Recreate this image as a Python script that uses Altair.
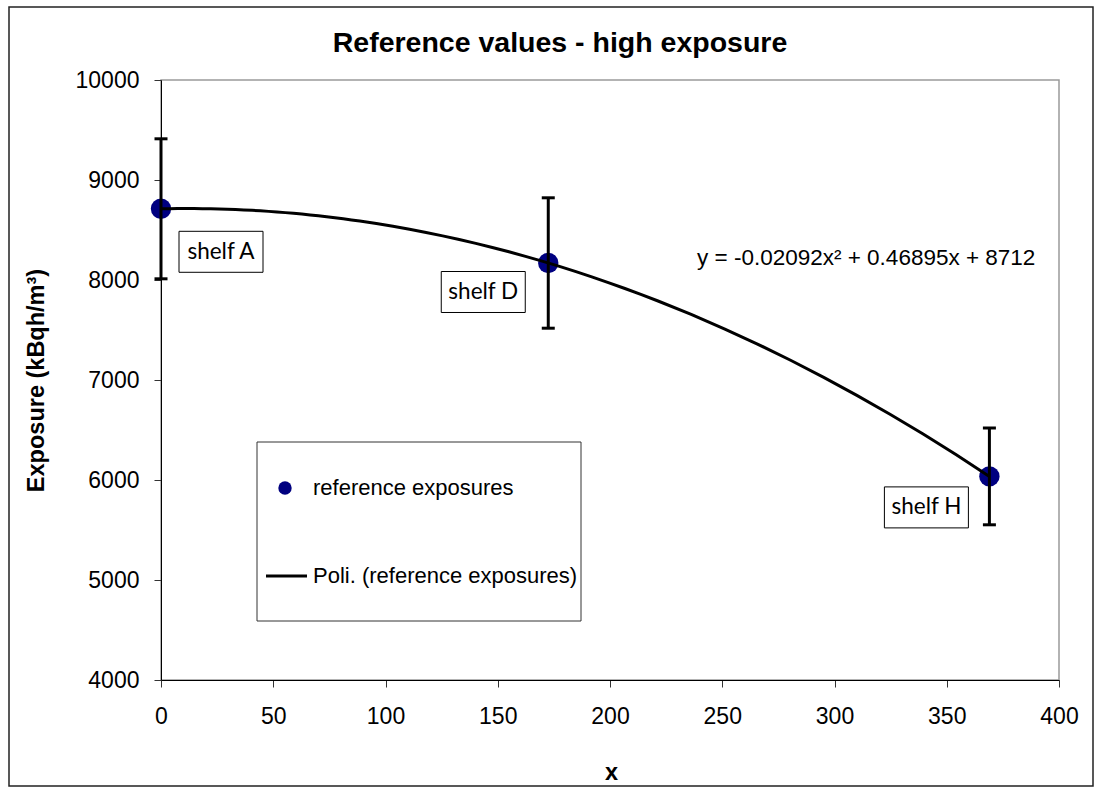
import altair as alt
import pandas as pd

# Measured exposures per shelf position
shelf = ["shelf A", "shelf D", "shelf H"]
position = [0, 172.5, 369]
exposure = [8712, 8170, 6036]
error = [700, 652, 484]

# Axis ticks
x_ticks = [0, 50, 100, 150, 200, 250, 300, 350, 400]
y_ticks = [4000, 5000, 6000, 7000, 8000, 9000, 10000]

title_text = "Reference values - high exposure"
equation = "y = -0.02092x² + 0.46895x + 8712"
legend_items = ["reference exposures", "Poli. (reference exposures)"]

df = pd.DataFrame({"shelf": shelf, "x": position, "y": exposure, "err": error})
one = pd.DataFrame({"k": [0]})

W, H = 898, 600
FONT = "Liberation Sans"
LABEL_FONT = "Lato"
NAVY = "#000080"

xs = alt.Scale(domain=[0, 400], nice=False, zero=False)
ys = alt.Scale(domain=[4000, 10000], nice=False, zero=False)

x_axis = alt.Axis(
    values=x_ticks, format="d", title="x", labelPadding=18, labelFlush=False,
    labelOverlap=False, titleX=450, titleY=99, titleBaseline="alphabetic",
    titleAlign="center",
)
y_axis = alt.Axis(
    values=y_ticks, format="d", title="Exposure (kBqh/m³)", labelPadding=15,
    labelFlush=False, labelOverlap=False, titleX=-118, titleY=300,
    titleBaseline="alphabetic", titleAlign="center", titleAngle=-90,
)


def xq(field="x"):
    return alt.X(f"{field}:Q", scale=xs, axis=x_axis)


def yq(field="y"):
    return alt.Y(f"{field}:Q", scale=ys, axis=y_axis)


base = alt.Chart(df)

# error bars
bounds = base.transform_calculate(lo="datum.y - datum.err", hi="datum.y + datum.err")
bars = bounds.mark_rule(color="black", strokeWidth=3).encode(x=xq(), y=yq("lo"), y2="hi:Q")
cap_lo = bounds.mark_tick(orient="horizontal", size=13, thickness=3, color="black", opacity=1).encode(
    x=xq(), y=yq("lo")
)
cap_hi = bounds.mark_tick(orient="horizontal", size=13, thickness=3, color="black", opacity=1).encode(
    x=xq(), y=yq("hi")
)

# measured points
points = base.mark_circle(size=415, color=NAVY, opacity=1).encode(x=xq(), y=yq())

# second order polynomial trend through the measurements
trend = base.transform_regression("x", "y", method="poly", order=2).mark_line(
    color="black", strokeWidth=3
).encode(x=xq(), y=yq())

# shelf label boxes, offset from their points in pixels
box_shape = "M-1,-0.488H1V0.488H-1Z"
label_offsets = {"shelf A": (60, 43), "shelf D": (-65, 29), "shelf H": (-63, 31)}
label_layers = []
for name, (dx, dy) in label_offsets.items():
    sel = base.transform_filter(alt.datum.shelf == name)
    label_layers.append(
        sel.mark_point(
            shape=box_shape, size=84 * 84, filled=True, fill="white", stroke="black",
            strokeWidth=1, opacity=1, xOffset=dx, yOffset=dy,
        ).encode(x=xq(), y=yq())
    )
    label_layers.append(
        sel.mark_text(
            font=LABEL_FONT, fontSize=22.5, color="black", align="center", baseline="middle",
            xOffset=dx, yOffset=dy,
        ).encode(x=xq(), y=yq(), text="shelf:N")
    )

# chart title
title = alt.Chart(one).mark_text(
    font=FONT, fontSize=28.5, fontWeight="bold", color="black", align="center", baseline="middle"
).encode(x=alt.value(399), y=alt.value(-37), text=alt.value(title_text))

# trendline equation
eq = alt.Chart(one).mark_text(
    font=FONT, fontSize=22.5, color="black", align="left", baseline="middle"
).encode(x=alt.value(536), y=alt.value(178), text=alt.value(equation))

# legend box
leg_box = alt.Chart(one).mark_rect(fill="white", stroke="#333", strokeWidth=1).encode(
    x=alt.value(96), x2=alt.value(420), y=alt.value(362), y2=alt.value(541)
)
leg_dot = alt.Chart(one).mark_circle(size=180, color=NAVY, opacity=1).encode(
    x=alt.value(124), y=alt.value(408)
)
leg_line = alt.Chart(one).mark_rule(color="black", strokeWidth=3).encode(
    x=alt.value(105), x2=alt.value(146), y=alt.value(496)
)
leg_t1 = alt.Chart(one).mark_text(
    font=FONT, fontSize=22, color="black", align="left", baseline="middle"
).encode(x=alt.value(152), y=alt.value(408), text=alt.value(legend_items[0]))
leg_t2 = alt.Chart(one).mark_text(
    font=FONT, fontSize=22, color="black", align="left", baseline="middle"
).encode(x=alt.value(152), y=alt.value(496), text=alt.value(legend_items[1]))

# outer chart frame
frame = alt.Chart(one).mark_rect(fill=None, stroke="#222", strokeWidth=1.5).encode(
    x=alt.value(-152), x2=alt.value(932), y=alt.value(-73), y2=alt.value(706)
)

chart = (
    alt.layer(
        points, frame, bars, cap_lo, cap_hi, trend, *label_layers, title, eq,
        leg_box, leg_dot, leg_line, leg_t1, leg_t2,
    )
    .properties(
        width=W,
        height=H,
        autosize=alt.AutoSizeParams(type="none"),
        padding={"left": 161, "top": 80, "right": 39, "bottom": 111},
    )
    .configure_view(stroke="#9a9a9a", strokeWidth=1.5)
    .configure_axis(
        domainColor="black", domainWidth=1, tickColor="#333", tickSize=7, grid=False,
        labelFont=FONT, labelFontSize=23, labelColor="black",
        titleFont=FONT, titleFontSize=23.5, titleFontWeight="bold", titleColor="black",
    )
)

chart.save("out.html", embed_options={"renderer": "svg", "actions": False})
